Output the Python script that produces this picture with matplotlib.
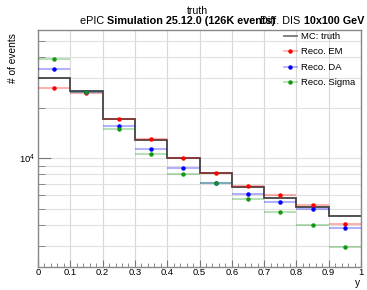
import matplotlib
matplotlib.use("Agg")
import matplotlib.pyplot as plt
from matplotlib.lines import Line2D
from matplotlib.ticker import LogLocator, NullFormatter, FixedLocator
import numpy as np

plt.rcParams['font.family'] = ['Liberation Sans', 'DejaVu Sans']
plt.rcParams['mathtext.default'] = 'regular'

# bins in y
edges = np.linspace(0, 1, 11)
centers = 0.5 * (edges[:-1] + edges[1:])

truth = [29900, 25150, 17060, 12900, 10050, 8150, 6780, 5830, 5110, 4540]
reco_em = [26300, 24380, 17060, 13020, 10080, 8150, 6840, 6050, 5270, 4050]
reco_da = [33900, 24700, 15630, 11400, 8790, 7160, 6130, 5500, 5010, 3860]
reco_sigma = [39200, 24700, 15000, 10640, 8060, 7130, 5700, 4810, 3990, 2940]

series = [("Reco. EM", reco_em, (1, 0, 0)),
          ("Reco. DA", reco_da, (0, 0, 1)),
          ("Reco. Sigma", reco_sigma, (0.07, 0.6, 0.07))]

xticks = np.round(np.linspace(0, 1, 11), 1)
xticklabels = ["0", "0.1", "0.2", "0.3", "0.4", "0.5", "0.6", "0.7", "0.8", "0.9", "1"]

W, H = 367, 290
fig = plt.figure(figsize=(W / 100, H / 100), dpi=100)
ax = fig.add_axes([38 / W, 1 - 267 / H, (361 - 38) / W, (267 - 30) / H])

ax.set_yscale("log")
ax.set_xlim(0, 1)
ax.set_ylim(2250, 58000)

ax.xaxis.set_major_locator(FixedLocator(xticks))
ax.xaxis.set_minor_locator(FixedLocator(np.linspace(0, 1, 51)))
ax.set_xticklabels(xticklabels)
ax.yaxis.set_major_locator(FixedLocator([1e4]))
ax.yaxis.set_minor_locator(LogLocator(base=10, subs=np.arange(2, 10)))
ax.yaxis.set_minor_formatter(NullFormatter())
ax.set_yticklabels(["10$^4$"])
ax.grid(True, which="major", axis="x", color="#d8d8d8", lw=0.8)
ax.grid(True, which="both", axis="y", color="#e0e0e0", lw=0.8)
ax.set_axisbelow(True)

ax.tick_params(which="both", direction="in", labelsize=6.8, color="#777777")
ax.tick_params(axis="x", pad=0.8)
ax.tick_params(axis="y", pad=2)
ax.tick_params(axis="y", which="major", length=9)
ax.tick_params(axis="y", which="minor", length=5)
ax.tick_params(axis="x", which="major", length=5)
ax.tick_params(axis="x", which="minor", length=3)
for s in ax.spines.values():
    s.set_color("#888888")
    s.set_linewidth(1.0)

ax.stairs(truth, edges, baseline=None, color="#444444", lw=1.3, zorder=3)

for label, vals, col in series:
    ax.errorbar(centers, vals, xerr=0.05, fmt="o", ms=2.2, color=col,
                ecolor=col + (0.3,), elinewidth=1.5, capsize=0, zorder=4)

handles = [Line2D([], [], color="#777777", lw=1.3)]
for label, vals, col in series:
    handles.append(Line2D([], [], color=col + (0.3,), lw=1.3, marker="o",
                          ms=2.2, mfc=col, mec=col))
labels = ["MC: truth"] + [s[0] for s in series]
fig.legend(handles, labels, loc="upper left", bbox_to_anchor=(284 / W, 1 - 32 / H),
           frameon=False, fontsize=6.8, handlelength=1.35, handletextpad=0.5,
           labelspacing=0.68, borderpad=0, borderaxespad=0)

# axis titles
fig.text(13 / W, 1 - 33 / H, "# of events", rotation=90, ha="center", va="top",
         fontsize=7.3)
fig.text(357.5 / W, 1 - 286 / H, "y", ha="center", va="baseline", fontsize=7.3)

# title lines
fig.text(197 / W, 1 - 14 / H, "truth", ha="center", va="baseline", fontsize=7.6)

fs = 7.8
renderer = fig.canvas.get_renderer()
t1 = fig.text(80 / W, 1 - 24 / H, "ePIC ", ha="left", va="baseline", fontsize=fs)
x1 = t1.get_window_extent(renderer).x1
fig.text(x1 / W, 1 - 24 / H, "Simulation 25.12.0 (126K events)", ha="left",
         va="baseline", fontsize=fs, fontweight="bold")
t3 = fig.text(364 / W, 1 - 24 / H, "10x100 GeV", ha="right", va="baseline",
              fontsize=fs, fontweight="bold")
x3 = t3.get_window_extent(renderer).x0
fig.text(x3 / W, 1 - 24 / H, "Diff. DIS ", ha="right", va="baseline", fontsize=fs)

fig.savefig("out.png", dpi=100)
